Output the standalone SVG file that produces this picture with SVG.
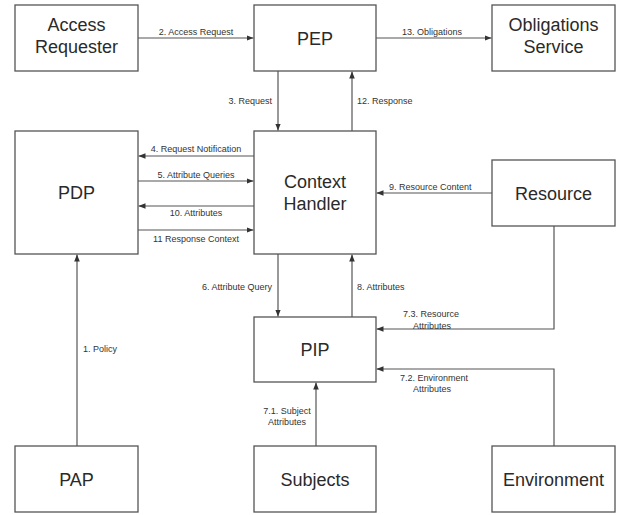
<svg xmlns="http://www.w3.org/2000/svg" width="621" height="515" viewBox="0 0 621 515">
  <style>
    .box { fill: #ffffff; stroke: #555555; stroke-width: 1.3; }
    .name { font-family: "Liberation Sans", Arial, sans-serif; font-size: 18px; fill: #2a2a2a; text-anchor: middle; }
    .edge { fill: none; stroke: #555555; stroke-width: 1.2; }
    .lbl { font-family: "Liberation Sans", Arial, sans-serif; font-size: 9px; fill: #333333; }
  </style>
  <defs>
    <marker id="arrow" viewBox="0 0 10 10" refX="10" refY="5" markerWidth="7" markerHeight="7" markerUnits="userSpaceOnUse" orient="auto">
      <path d="M0,1 L10,5 L0,9 Z" fill="#333333"/>
    </marker>
  </defs>
  <rect width="621" height="515" fill="#ffffff"/>

  <g id="access-requester">
    <rect class="box" x="15" y="5" width="123" height="66"/>
    <text class="name" x="76.5" y="31">Access</text>
    <text class="name" x="76.5" y="53">Requester</text>
  </g>
  <g id="pep">
    <rect class="box" x="254" y="5" width="122" height="66"/>
    <text class="name" x="315" y="44.5">PEP</text>
  </g>
  <g id="obligations-service">
    <rect class="box" x="492" y="5" width="123" height="66"/>
    <text class="name" x="553.5" y="31">Obligations</text>
    <text class="name" x="553.5" y="53">Service</text>
  </g>
  <g id="pdp">
    <rect class="box" x="15" y="131" width="123" height="123"/>
    <text class="name" x="76.5" y="199">PDP</text>
  </g>
  <g id="context-handler">
    <rect class="box" x="254" y="131" width="122" height="123"/>
    <text class="name" x="315" y="188">Context</text>
    <text class="name" x="315" y="210">Handler</text>
  </g>
  <g id="resource">
    <rect class="box" x="492" y="160" width="123" height="66"/>
    <text class="name" x="553.5" y="199.5">Resource</text>
  </g>
  <g id="pip">
    <rect class="box" x="254" y="317" width="122" height="65"/>
    <text class="name" x="315" y="356">PIP</text>
  </g>
  <g id="pap">
    <rect class="box" x="15" y="446" width="123" height="66"/>
    <text class="name" x="76.5" y="485.5">PAP</text>
  </g>
  <g id="subjects">
    <rect class="box" x="254" y="446" width="122" height="66"/>
    <text class="name" x="315" y="485.5">Subjects</text>
  </g>
  <g id="environment">
    <rect class="box" x="492" y="446" width="123" height="66"/>
    <text class="name" x="553.5" y="485.5">Environment</text>
  </g>

  <g id="connectors">
    <!-- 1 -->
    <line class="edge" x1="77" y1="446" x2="77" y2="254.5" marker-end="url(#arrow)"/>
    <text class="lbl" x="83" y="352">1. Policy</text>
    <!-- 2 -->
    <line class="edge" x1="138" y1="38" x2="253.5" y2="38" marker-end="url(#arrow)"/>
    <text class="lbl" x="196" y="35" text-anchor="middle">2. Access Request</text>
    <!-- 3 -->
    <line class="edge" x1="278" y1="71" x2="278" y2="130.5" marker-end="url(#arrow)"/>
    <text class="lbl" x="272" y="104" text-anchor="end">3. Request</text>
    <!-- 4 -->
    <line class="edge" x1="254" y1="156" x2="138.5" y2="156" marker-end="url(#arrow)"/>
    <text class="lbl" x="196" y="152" text-anchor="middle">4. Request Notification</text>
    <!-- 5 -->
    <line class="edge" x1="138" y1="181" x2="253.5" y2="181" marker-end="url(#arrow)"/>
    <text class="lbl" x="196" y="178" text-anchor="middle">5. Attribute Queries</text>
    <!-- 6 -->
    <line class="edge" x1="278" y1="254" x2="278" y2="316.5" marker-end="url(#arrow)"/>
    <text class="lbl" x="272" y="290" text-anchor="end">6. Attribute Query</text>
    <!-- 7.1 -->
    <line class="edge" x1="316" y1="446" x2="316" y2="382.5" marker-end="url(#arrow)"/>
    <text class="lbl" x="287" y="414" text-anchor="middle">7.1. Subject</text>
    <text class="lbl" x="287" y="425" text-anchor="middle">Attributes</text>
    <!-- 7.2 -->
    <polyline class="edge" points="554,446 554,369 376.5,369" marker-end="url(#arrow)"/>
    <text class="lbl" x="400" y="381">7.2. Environment</text>
    <text class="lbl" x="432" y="392" text-anchor="middle">Attributes</text>
    <!-- 7.3 -->
    <polyline class="edge" points="554,226 554,329 376.5,329" marker-end="url(#arrow)"/>
    <text class="lbl" x="431" y="317" text-anchor="middle">7.3. Resource</text>
    <text class="lbl" x="432" y="329" text-anchor="middle">Attributes</text>
    <!-- 8 -->
    <line class="edge" x1="352" y1="317" x2="352" y2="254.5" marker-end="url(#arrow)"/>
    <text class="lbl" x="357" y="290">8. Attributes</text>
    <!-- 9 -->
    <line class="edge" x1="492" y1="193" x2="376.5" y2="193" marker-end="url(#arrow)"/>
    <text class="lbl" x="389" y="190">9. Resource Content</text>
    <!-- 10 -->
    <line class="edge" x1="254" y1="206" x2="138.5" y2="206" marker-end="url(#arrow)"/>
    <text class="lbl" x="196" y="216" text-anchor="middle">10. Attributes</text>
    <!-- 11 -->
    <line class="edge" x1="138" y1="230" x2="253.5" y2="230" marker-end="url(#arrow)"/>
    <text class="lbl" x="196" y="242" text-anchor="middle">11 Response Context</text>
    <!-- 12 -->
    <line class="edge" x1="352" y1="131" x2="352" y2="71.5" marker-end="url(#arrow)"/>
    <text class="lbl" x="357" y="104">12. Response</text>
    <!-- 13 -->
    <line class="edge" x1="376" y1="38" x2="491.5" y2="38" marker-end="url(#arrow)"/>
    <text class="lbl" x="432" y="35" text-anchor="middle">13. Obligations</text>
  </g>
</svg>
